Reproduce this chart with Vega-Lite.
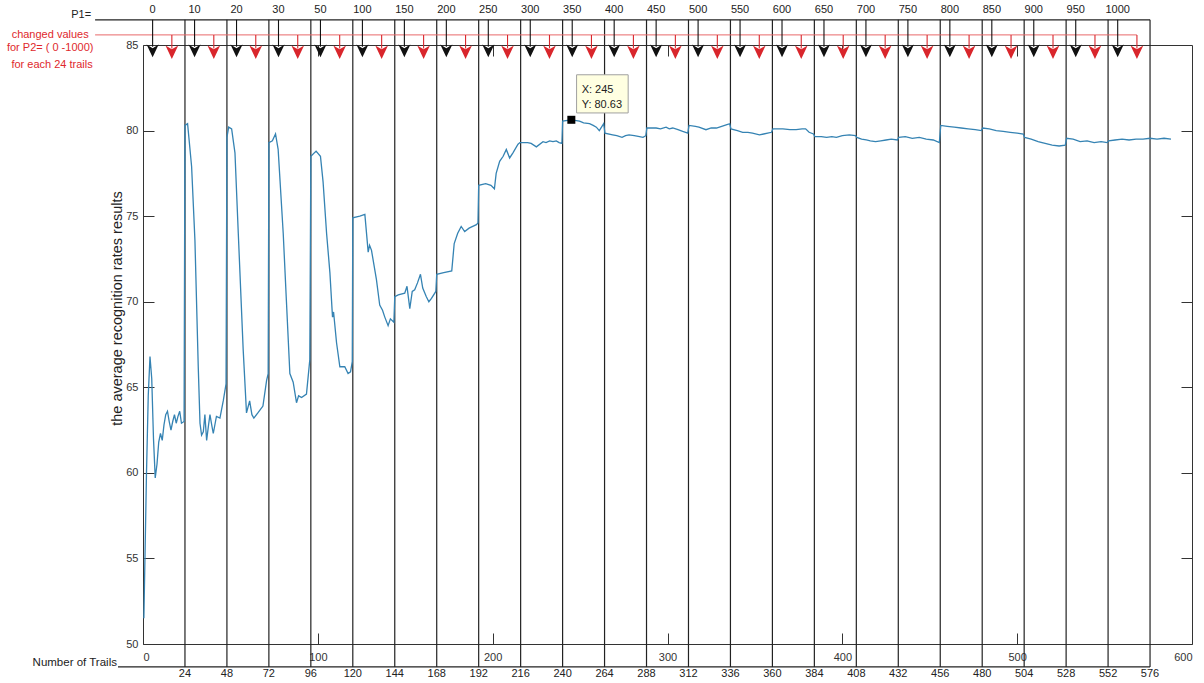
{
  "$schema": "https://vega.github.io/schema/vega-lite/v6.json",
  "width": 1049,
  "height": 599,
  "autosize": {"type": "none"},
  "padding": {"left": 143, "top": 45, "right": 12, "bottom": 39},
  "background": "white",
  "config": {
    "view": {"stroke": "#333333", "strokeWidth": 1},
    "font": "Liberation Sans",
    "axis": {"domain": false, "grid": false, "labelFont": "Liberation Sans", "labelFontSize": 11, "labelColor": "#333333", "tickColor": "#333333", "tickSize": -11, "tickWidth": 1, "titleFont": "Liberation Sans", "titleFontWeight": "normal", "titleFontSize": 12, "titleColor": "#222222"},
    "text": {"font": "Liberation Sans", "fontSize": 11}
  },
  "resolve": {"axis": {"x": "independent", "y": "independent"}},
  "datasets": {
    "one": [{}],
    "rate": [
      {"x":0.5,"y":51.5},{"x":2,"y":60},{"x":3,"y":64.5},{"x":4,"y":66.8},{"x":5,"y":65.5},{"x":6,"y":62},{"x":7,"y":59.7},{"x":8,"y":60.5},{"x":9,"y":61.8},{"x":10,"y":62.3},{"x":11,"y":61.9},{"x":12,"y":62.8},{"x":13,"y":63.4},{"x":14,"y":63.6},{"x":15,"y":63},{"x":16,"y":62.5},{"x":17,"y":63},{"x":18,"y":63.4},{"x":19,"y":62.9},{"x":20,"y":63.3},{"x":21,"y":63.6},{"x":22,"y":62.9},{"x":23.5,"y":63},
      {"x":24,"y":80.3},{"x":25.5,"y":80.4},{"x":27.8,"y":77.9},{"x":29.7,"y":73.6},{"x":31.6,"y":66.2},{"x":32.6,"y":62.9},{"x":33.5,"y":62.2},{"x":34.5,"y":62.4},{"x":35.4,"y":63.4},{"x":36.4,"y":61.9},{"x":37.5,"y":62.8},{"x":38.3,"y":63.4},{"x":39.3,"y":62.8},{"x":40.2,"y":62.3},{"x":42,"y":63.3},{"x":44,"y":63.2},{"x":45.9,"y":64.2},{"x":47.5,"y":65.2},
      {"x":48,"y":79.6},{"x":49,"y":80.2},{"x":50.7,"y":80.1},{"x":52.6,"y":78.7},{"x":54.5,"y":74},{"x":57.3,"y":67.2},{"x":59.2,"y":63.5},{"x":61,"y":64.2},{"x":62.3,"y":63.4},{"x":63.4,"y":63.2},{"x":65.7,"y":63.5},{"x":68.6,"y":63.9},{"x":70.7,"y":65.4},{"x":71.6,"y":65.8},
      {"x":72,"y":79.3},{"x":74,"y":79.4},{"x":75.8,"y":79.8},{"x":77.3,"y":78.9},{"x":80.2,"y":74},{"x":82,"y":70.1},{"x":84,"y":65.8},{"x":85.9,"y":65.3},{"x":87.8,"y":64.1},{"x":89,"y":64.5},{"x":90.7,"y":64.4},{"x":93.5,"y":64.6},{"x":95.4,"y":66.6},
      {"x":96,"y":78.5},{"x":99,"y":78.8},{"x":101.5,"y":78.5},{"x":103,"y":77},{"x":105,"y":74},{"x":106.9,"y":71.7},{"x":108.4,"y":69.1},{"x":109,"y":69.4},{"x":110.7,"y":67.6},{"x":112.6,"y":66.2},{"x":115.4,"y":66.2},{"x":117.3,"y":65.8},{"x":118.7,"y":65.9},{"x":119.7,"y":66.5},
      {"x":120,"y":74.9},{"x":124,"y":75},{"x":126.9,"y":75.1},{"x":128.8,"y":72.9},{"x":129.6,"y":73.3},{"x":130.7,"y":73},{"x":133.5,"y":71.3},{"x":135.4,"y":69.8},{"x":137,"y":69.5},{"x":138.3,"y":69.1},{"x":140.2,"y":68.6},{"x":141.5,"y":69},{"x":143.5,"y":68.8},
      {"x":144,"y":70.3},{"x":146,"y":70.4},{"x":149.7,"y":70.5},{"x":151,"y":70.9},{"x":152.6,"y":69.6},{"x":154,"y":70.6},{"x":155.4,"y":70.7},{"x":157,"y":71.1},{"x":158.7,"y":71.6},{"x":160,"y":70.8},{"x":162,"y":70.3},{"x":163.5,"y":70},{"x":165,"y":70.2},{"x":167.5,"y":70.6},
      {"x":168,"y":71.6},{"x":172,"y":71.7},{"x":176.6,"y":71.8},{"x":178,"y":73.4},{"x":180,"y":74},{"x":182,"y":74.4},{"x":184,"y":74.1},{"x":186.5,"y":74.3},{"x":188.6,"y":74.4},{"x":190.7,"y":74.5},{"x":191.6,"y":74.6},
      {"x":192,"y":76.8},{"x":196,"y":76.9},{"x":199,"y":76.8},{"x":201,"y":76.6},{"x":202,"y":77.5},{"x":204,"y":78.2},{"x":206,"y":78.5},{"x":207.8,"y":78.9},{"x":209.7,"y":78.4},{"x":211.6,"y":78.7},{"x":214.5,"y":79.2},{"x":215.6,"y":79.3},
      {"x":216,"y":79.3},{"x":220,"y":79.3},{"x":222,"y":79.25},{"x":225,"y":79.05},{"x":228.8,"y":79.35},{"x":230.5,"y":79.3},{"x":232.6,"y":79.4},{"x":234.5,"y":79.35},{"x":236.4,"y":79.4},{"x":238,"y":79.3},{"x":239.6,"y":79.25},
      {"x":240,"y":80.55},{"x":245,"y":80.63},{"x":249.7,"y":80.55},{"x":252,"y":80.45},{"x":255.4,"y":80.4},{"x":257.5,"y":80.3},{"x":259.3,"y":80.2},{"x":261,"y":80},{"x":263.5,"y":80.4},
      {"x":264.2,"y":79.85},{"x":268.6,"y":79.75},{"x":271,"y":79.7},{"x":274,"y":79.6},{"x":276,"y":79.7},{"x":278,"y":79.75},{"x":281,"y":79.7},{"x":284,"y":79.65},{"x":286,"y":79.6},{"x":287.6,"y":79.7},
      {"x":288.2,"y":80.15},{"x":293.5,"y":80.15},{"x":296,"y":80.1},{"x":299.2,"y":80.2},{"x":301,"y":80.1},{"x":303,"y":80.15},{"x":306,"y":80.05},{"x":308.7,"y":79.95},{"x":311.6,"y":79.85},
      {"x":312.3,"y":80.3},{"x":316,"y":80.25},{"x":318,"y":80.2},{"x":322,"y":80.05},{"x":325,"y":80.15},{"x":328,"y":80.15},{"x":331,"y":80.25},{"x":334,"y":80.35},{"x":335.6,"y":80.4},
      {"x":336.3,"y":80.1},{"x":340,"y":80},{"x":343,"y":79.9},{"x":346,"y":79.9},{"x":348.6,"y":79.85},{"x":352.6,"y":79.75},{"x":355,"y":79.8},{"x":359.5,"y":79.9},
      {"x":360.3,"y":80.1},{"x":366,"y":80.1},{"x":370,"y":80.05},{"x":373.6,"y":80.05},{"x":377,"y":80.1},{"x":379,"y":80.1},{"x":381,"y":79.9},{"x":383.5,"y":79.8},
      {"x":384.3,"y":79.65},{"x":388,"y":79.65},{"x":391,"y":79.6},{"x":394,"y":79.65},{"x":396.6,"y":79.6},{"x":400,"y":79.7},{"x":404,"y":79.75},{"x":407.5,"y":79.7},
      {"x":408.3,"y":79.6},{"x":411,"y":79.5},{"x":413.7,"y":79.45},{"x":416,"y":79.4},{"x":419,"y":79.35},{"x":422,"y":79.4},{"x":425,"y":79.45},{"x":428,"y":79.5},{"x":431.5,"y":79.45},
      {"x":432.3,"y":79.6},{"x":436,"y":79.65},{"x":440,"y":79.55},{"x":444,"y":79.6},{"x":448,"y":79.5},{"x":452,"y":79.45},{"x":455.5,"y":79.3},
      {"x":456.3,"y":80.3},{"x":460,"y":80.25},{"x":464,"y":80.2},{"x":468,"y":80.15},{"x":472,"y":80.1},{"x":476,"y":80.05},{"x":479.5,"y":80},
      {"x":480.3,"y":80.15},{"x":484,"y":80.1},{"x":488,"y":80},{"x":492,"y":79.95},{"x":496,"y":79.9},{"x":500,"y":79.85},{"x":503.5,"y":79.8},
      {"x":504.3,"y":79.6},{"x":508,"y":79.5},{"x":512,"y":79.35},{"x":516,"y":79.25},{"x":520,"y":79.15},{"x":524,"y":79.1},{"x":527.5,"y":79.15},
      {"x":528.3,"y":79.55},{"x":532,"y":79.5},{"x":536,"y":79.35},{"x":540,"y":79.4},{"x":544,"y":79.3},{"x":548,"y":79.35},{"x":551.5,"y":79.3},
      {"x":552.3,"y":79.4},{"x":556,"y":79.45},{"x":560,"y":79.5},{"x":564,"y":79.45},{"x":568,"y":79.5},{"x":572,"y":79.5},{"x":576,"y":79.55},{"x":580,"y":79.5},{"x":584,"y":79.55},{"x":588,"y":79.5}
    ],
    "trails": [
      {"x":24},{"x":48},{"x":72},{"x":96},{"x":120},{"x":144},{"x":168},{"x":192},{"x":216},{"x":240},{"x":264},{"x":288},
      {"x":312},{"x":336},{"x":360},{"x":384},{"x":408},{"x":432},{"x":456},{"x":480},{"x":504},{"x":528},{"x":552},{"x":576}
    ],
    "p1": [
      {"x":5.5,"p1":"0"},{"x":29.5,"p1":"10"},{"x":53.5,"p1":"20"},{"x":77.5,"p1":"30"},{"x":101.5,"p1":"50"},{"x":125.5,"p1":"100"},
      {"x":149.5,"p1":"150"},{"x":173.5,"p1":"200"},{"x":197.5,"p1":"250"},{"x":221.5,"p1":"300"},{"x":245.5,"p1":"350"},{"x":269.5,"p1":"400"},
      {"x":293.5,"p1":"450"},{"x":317.5,"p1":"500"},{"x":341.5,"p1":"550"},{"x":365.5,"p1":"600"},{"x":389.5,"p1":"650"},{"x":413.5,"p1":"700"},
      {"x":437.5,"p1":"750"},{"x":461.5,"p1":"800"},{"x":485.5,"p1":"850"},{"x":509.5,"p1":"900"},{"x":533.5,"p1":"950"},{"x":557.5,"p1":"1000"}
    ],
    "p2": [
      {"x":16.5},{"x":40.5},{"x":64.5},{"x":88.5},{"x":112.5},{"x":136.5},{"x":160.5},{"x":184.5},{"x":208.5},{"x":232.5},{"x":256.5},{"x":280.5},
      {"x":304.5},{"x":328.5},{"x":352.5},{"x":376.5},{"x":400.5},{"x":424.5},{"x":448.5},{"x":472.5},{"x":496.5},{"x":520.5},{"x":544.5},{"x":568.5}
    ]
  },
  "layer": [
    {
      "data": {"name": "trails"},
      "mark": {"type": "rule", "color": "#222222", "strokeWidth": 1.2},
      "encoding": {
        "x": {"field": "x", "type": "quantitative", "scale": {"domain": [0, 600], "nice": false, "zero": false}, "axis": null},
        "y": {"datum": 86.47, "type": "quantitative", "scale": {"domain": [50, 85], "nice": false, "zero": false}, "axis": null},
        "y2": {"datum": 48.66}
      }
    },
    {
      "data": {"name": "one"},
      "mark": {"type": "rule", "color": "#222222", "strokeWidth": 1.2},
      "encoding": {
        "x": {"datum": -27.4, "type": "quantitative", "scale": {"domain": [0, 600], "nice": false, "zero": false}, "axis": null},
        "x2": {"datum": 576},
        "y": {"datum": 86.47, "type": "quantitative", "scale": {"domain": [50, 85], "nice": false, "zero": false}, "axis": null}
      }
    },
    {
      "data": {"name": "one"},
      "mark": {"type": "rule", "color": "#222222", "strokeWidth": 1.2},
      "encoding": {
        "x": {"datum": -14.3, "type": "quantitative", "scale": {"domain": [0, 600], "nice": false, "zero": false}, "axis": null},
        "x2": {"datum": 576},
        "y": {"datum": 48.66, "type": "quantitative", "scale": {"domain": [50, 85], "nice": false, "zero": false}, "axis": null}
      }
    },
    {
      "data": {"name": "one"},
      "mark": {"type": "rule", "color": "#e8686a", "strokeWidth": 1},
      "encoding": {
        "x": {"datum": -27.4, "type": "quantitative", "scale": {"domain": [0, 600], "nice": false, "zero": false}, "axis": null},
        "x2": {"datum": 568.5},
        "y": {"datum": 85.59, "type": "quantitative", "scale": {"domain": [50, 85], "nice": false, "zero": false}, "axis": null}
      }
    },
    {
      "data": {"name": "p1"},
      "mark": {"type": "rule", "color": "#111111", "strokeWidth": 1.1},
      "encoding": {
        "x": {"field": "x", "type": "quantitative", "scale": {"domain": [0, 600], "nice": false, "zero": false}, "axis": null},
        "y": {"datum": 86.47, "type": "quantitative", "scale": {"domain": [50, 85], "nice": false, "zero": false}, "axis": null},
        "y2": {"datum": 84.9}
      }
    },
    {
      "data": {"name": "p1"},
      "mark": {"type": "point", "shape": "M0,1L-0.9,-0.9L0,-0.35L0.9,-0.9Z", "filled": true, "color": "#111111", "opacity": 1, "size": 180},
      "encoding": {
        "x": {"field": "x", "type": "quantitative", "scale": {"domain": [0, 600], "nice": false, "zero": false}, "axis": null},
        "y": {"datum": 84.68, "type": "quantitative", "scale": {"domain": [50, 85], "nice": false, "zero": false}, "axis": null}
      }
    },
    {
      "data": {"name": "p1"},
      "mark": {"type": "text", "fontSize": 11, "color": "#222222", "baseline": "middle", "align": "center"},
      "encoding": {
        "x": {"field": "x", "type": "quantitative", "scale": {"domain": [0, 600], "nice": false, "zero": false}, "axis": null},
        "y": {"datum": 87.03, "type": "quantitative", "scale": {"domain": [50, 85], "nice": false, "zero": false}, "axis": null},
        "text": {"field": "p1"}
      }
    },
    {
      "data": {"name": "p2"},
      "mark": {"type": "rule", "color": "#d9262c", "strokeWidth": 1.1},
      "encoding": {
        "x": {"field": "x", "type": "quantitative", "scale": {"domain": [0, 600], "nice": false, "zero": false}, "axis": null},
        "y": {"datum": 85.59, "type": "quantitative", "scale": {"domain": [50, 85], "nice": false, "zero": false}, "axis": null},
        "y2": {"datum": 84.8}
      }
    },
    {
      "data": {"name": "p2"},
      "mark": {"type": "point", "shape": "M0,1L-0.9,-0.9L0,-0.35L0.9,-0.9Z", "filled": true, "color": "#d9262c", "opacity": 1, "size": 200},
      "encoding": {
        "x": {"field": "x", "type": "quantitative", "scale": {"domain": [0, 600], "nice": false, "zero": false}, "axis": null},
        "y": {"datum": 84.6, "type": "quantitative", "scale": {"domain": [50, 85], "nice": false, "zero": false}, "axis": null}
      }
    },
    {
      "data": {"name": "trails"},
      "mark": {"type": "text", "fontSize": 11, "color": "#222222", "baseline": "middle", "align": "center"},
      "encoding": {
        "x": {"field": "x", "type": "quantitative", "scale": {"domain": [0, 600], "nice": false, "zero": false}, "axis": null},
        "y": {"datum": 48.25, "type": "quantitative", "scale": {"domain": [50, 85], "nice": false, "zero": false}, "axis": null},
        "text": {"field": "x", "type": "quantitative"}
      }
    },
    {
      "data": {"name": "one"},
      "mark": {"type": "text", "text": "P1=", "fontSize": 11, "color": "#222222", "baseline": "middle", "align": "right"},
      "encoding": {
        "x": {"datum": -29.7, "type": "quantitative", "scale": {"domain": [0, 600], "nice": false, "zero": false}, "axis": null},
        "y": {"datum": 86.76, "type": "quantitative", "scale": {"domain": [50, 85], "nice": false, "zero": false}, "axis": null}
      }
    },
    {
      "data": {"name": "one"},
      "mark": {"type": "text", "text": "Number of Trails", "fontSize": 11.5, "color": "#222222", "baseline": "middle", "align": "right"},
      "encoding": {
        "x": {"datum": -14.9, "type": "quantitative", "scale": {"domain": [0, 600], "nice": false, "zero": false}, "axis": null},
        "y": {"datum": 48.89, "type": "quantitative", "scale": {"domain": [50, 85], "nice": false, "zero": false}, "axis": null}
      }
    },
    {
      "data": {"name": "one"},
      "mark": {"type": "text", "text": "changed values", "fontSize": 11, "color": "#e0282c", "baseline": "middle", "align": "center"},
      "encoding": {
        "x": {"datum": -53.1, "type": "quantitative", "scale": {"domain": [0, 600], "nice": false, "zero": false}, "axis": null},
        "y": {"datum": 85.59, "type": "quantitative", "scale": {"domain": [50, 85], "nice": false, "zero": false}, "axis": null}
      }
    },
    {
      "data": {"name": "one"},
      "mark": {"type": "text", "text": "for P2= ( 0 -1000)", "fontSize": 11, "color": "#e0282c", "baseline": "middle", "align": "center"},
      "encoding": {
        "x": {"datum": -53.1, "type": "quantitative", "scale": {"domain": [0, 600], "nice": false, "zero": false}, "axis": null},
        "y": {"datum": 84.83, "type": "quantitative", "scale": {"domain": [50, 85], "nice": false, "zero": false}, "axis": null}
      }
    },
    {
      "data": {"name": "one"},
      "mark": {"type": "text", "text": "for each 24 trails", "fontSize": 11, "color": "#e0282c", "baseline": "middle", "align": "center"},
      "encoding": {
        "x": {"datum": -52, "type": "quantitative", "scale": {"domain": [0, 600], "nice": false, "zero": false}, "axis": null},
        "y": {"datum": 83.84, "type": "quantitative", "scale": {"domain": [50, 85], "nice": false, "zero": false}, "axis": null}
      }
    },
    {
      "data": {"name": "rate"},
      "mark": {"type": "line", "color": "#3583b3", "strokeWidth": 1.3},
      "encoding": {
        "x": {"field": "x", "type": "quantitative", "scale": {"domain": [0, 600], "nice": false, "zero": false},
              "axis": {"orient": "bottom", "values": [0, 100, 200, 300, 400, 500, 600], "title": null, "labelPadding": 18}},
        "y": {"field": "y", "type": "quantitative", "scale": {"domain": [50, 85], "nice": false, "zero": false},
              "axis": {"orient": "left", "values": [50, 55, 60, 65, 70, 75, 80, 85], "title": "the average recognition rates results", "titleFontSize": 14.5, "labelPadding": 16, "titleX": -26, "titleY": 263, "titleAngle": -90, "titleBaseline": "middle", "titleAlign": "center"}}
      }
    },
    {
      "data": {"name": "one"},
      "mark": {"type": "rect", "fill": "#ffffe1", "stroke": "#a0a0a0", "strokeWidth": 1},
      "encoding": {
        "x": {"datum": 248, "type": "quantitative", "scale": {"domain": [0, 600], "nice": false, "zero": false}, "axis": null},
        "x2": {"datum": 277.5},
        "y": {"datum": 83.26, "type": "quantitative", "scale": {"domain": [50, 85], "nice": false, "zero": false}, "axis": null},
        "y2": {"datum": 81.03}
      }
    },
    {
      "data": {"name": "one"},
      "mark": {"type": "text", "text": "X: 245", "fontSize": 11, "color": "#222222", "baseline": "middle", "align": "left"},
      "encoding": {
        "x": {"datum": 250.9, "type": "quantitative", "scale": {"domain": [0, 600], "nice": false, "zero": false}, "axis": null},
        "y": {"datum": 82.38, "type": "quantitative", "scale": {"domain": [50, 85], "nice": false, "zero": false}, "axis": null}
      }
    },
    {
      "data": {"name": "one"},
      "mark": {"type": "text", "text": "Y: 80.63", "fontSize": 11, "color": "#222222", "baseline": "middle", "align": "left"},
      "encoding": {
        "x": {"datum": 250.9, "type": "quantitative", "scale": {"domain": [0, 600], "nice": false, "zero": false}, "axis": null},
        "y": {"datum": 81.5, "type": "quantitative", "scale": {"domain": [50, 85], "nice": false, "zero": false}, "axis": null}
      }
    },
    {
      "data": {"values": [{"x": 245, "y": 80.63}]},
      "mark": {"type": "square", "color": "#000000", "filled": true, "opacity": 1, "size": 64},
      "encoding": {
        "x": {"field": "x", "type": "quantitative", "scale": {"domain": [0, 600], "nice": false, "zero": false},
              "axis": {"orient": "top", "values": [100, 200, 300, 400, 500], "labels": false, "title": null}},
        "y": {"field": "y", "type": "quantitative", "scale": {"domain": [50, 85], "nice": false, "zero": false},
              "axis": {"orient": "right", "values": [55, 60, 65, 70, 75, 80], "labels": false, "title": null}}
      }
    }
  ]
}
